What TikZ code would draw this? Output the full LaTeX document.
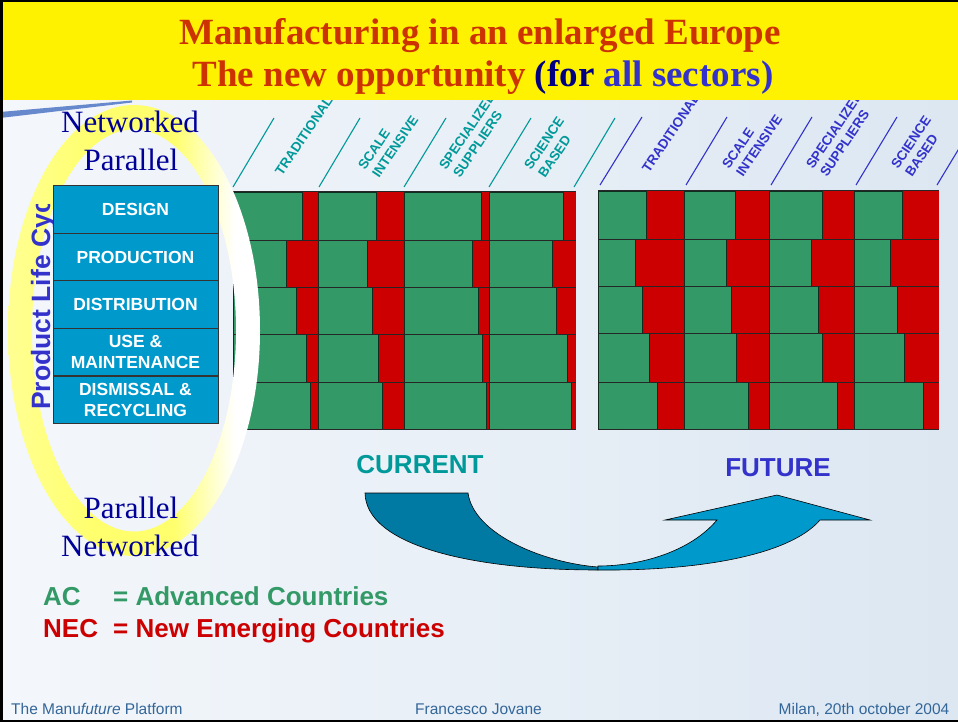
\documentclass[tikz,border=0pt]{standalone}
\usepackage{fontspec}
\setmainfont{Liberation Serif}
\newfontfamily\arial{Liberation Sans}
\definecolor{titlered}{RGB}{204,51,0}
\definecolor{navyc}{RGB}{0,0,128}
\definecolor{sectblue}{RGB}{51,51,204}
\definecolor{tealc}{RGB}{0,153,153}
\definecolor{cgreen}{RGB}{51,153,102}
\definecolor{cred}{RGB}{204,0,0}
\definecolor{boxblue}{RGB}{0,153,204}
\definecolor{darkarrow}{RGB}{0,122,163}
\definecolor{footc}{RGB}{51,102,153}
\definecolor{nwblue}{RGB}{0,0,153}
\definecolor{bgl}{RGB}{244,247,251}
\definecolor{bgr}{RGB}{220,231,242}
\definecolor{ringy}{RGB}{255,255,110}
\definecolor{swooshc}{RGB}{102,136,204}
\pgfdeclarehorizontalshading{ringshade}{100bp}{color(0bp)=(ringy!75!white); color(25bp)=(ringy!75!white); color(42bp)=(ringy); color(58bp)=(ringy); color(70bp)=(white); color(100bp)=(white)}
\tikzset{
  lblc/.style={font=\arial\bfseries\fontsize{13.5}{15}\selectfont, text=tealc, rotate=56, anchor=base west, inner sep=0},
  lblf/.style={lblc, text=sectblue},
  tickc/.style={tealc, line width=1.1},
  tickf/.style={sectblue, line width=1.1},
  cell/.style={fill=cgreen, draw=black!70!cgreen, line width=0.8},
  rowline/.style={draw=black!85, line width=1},
  stage/.style={draw=black!80, line width=0.9, fill=boxblue, text=white, font=\arial\bfseries\fontsize{17.5}{21}\selectfont, minimum width=165, minimum height=47.6, inner sep=0, align=center},
  nwtext/.style={font=\fontsize{31}{34}\selectfont, text=nwblue, anchor=base, inner sep=0},
  bigsans/.style={font=\arial\bfseries\fontsize{26}{30}\selectfont, anchor=base, inner sep=0},
  legend/.style={font=\arial\bfseries\fontsize{26}{30}\selectfont, anchor=base west, inner sep=0},
  foot/.style={font=\arial\fontsize{15.5}{18}\selectfont, text=footc, inner sep=0},
  titlef/.style={font=\bfseries\fontsize{37}{42}\selectfont, text=titlered, anchor=base, inner sep=0},
}
\begin{document}
\begin{tikzpicture}[x=1pt,y=-1pt]
\useasboundingbox (0,0) rectangle (958,722);
% background
\fill[left color=bgl, right color=bgr] (0,0) rectangle (958,722);
% slanted sector lines and labels (CURRENT)
\draw[tickc] (233,187) -- (274,118);
\draw[tickc] (319,187) -- (360,118);
\draw[tickc] (404,187) -- (446,118);
\draw[tickc] (489,187) -- (531,118);
\draw[tickc] (574,187) -- (615,118);
\node[lblc] (ct1) at (282,177) {TRADITIONAL};
\node[lblc] (ct2a) at (365,171) {SCALE};
\node[lblc] (ct2b) at (379,179) {INTENSIVE};
\node[lblc] (ct3a) at (446,171) {SPECIALIZED};
\node[lblc] (ct3b) at (460,179) {SUPPLIERS};
\node[lblc] (ct4a) at (531,171) {SCIENCE};
\node[lblc] (ct4b) at (545,179) {BASED};
% FUTURE
\draw[tickf] (600,185) -- (642,117);
\draw[tickf] (686,185) -- (727,117);
\draw[tickf] (771,185) -- (812,117);
\draw[tickf] (856,185) -- (897,117);
\draw[tickf] (937,185) -- (978,117);
\node[lblf] (ft1) at (649,174) {TRADITIONAL};
\node[lblf] (ft2a) at (729,170) {SCALE};
\node[lblf] (ft2b) at (743,178) {INTENSIVE};
\node[lblf] (ft3a) at (813,170) {SPECIALIZED};
\node[lblf] (ft3b) at (827,178) {SUPPLIERS};
\node[lblf] (ft4a) at (898,170) {SCIENCE};
\node[lblf] (ft4b) at (912,178) {BASED};
% title band
\fill[yellow] (0,0) rectangle (958,100);
\node[titlef] (title1) at (480,45) {Manufacturing in an enlarged Europe};
\node[titlef] (title2) at (483,87) {The new opportunity {\color{navyc}(for} {\color{sectblue}all sectors)}};
\fill[swooshc] (0,112) -- (132,100.5) -- (132,102.5) -- (0,118) -- cycle;
% CURRENT table
\foreach \yt/\yb/\ra/\rb/\rc/\rd in {192/240/302.7/376.7/481/563, 240/287/286.7/367.3/472.3/552.7, 287/334/296.7/372.7/478/556.7, 334/382/306.7/378.7/482.3/567.3, 382/429/310.7/382/486.3/571.3}{
  \fill[cred] (233,\yt) rectangle (576,\yb);
  \draw[cell] (233,\yt) rectangle (\ra,\yb);
  \draw[cell] (318,\yt) rectangle (\rb,\yb);
  \draw[cell] (404,\yt) rectangle (\rc,\yb);
  \draw[cell] (489,\yt) rectangle (\rd,\yb);
  \draw[rowline] (233,\yt) -- (576,\yt);
}
\draw[rowline] (233,429) -- (576,429);
% FUTURE table
\foreach \yt/\yb/\ra/\rb/\rc/\rd in {191/239/646.7/735.3/822.3/902, 239/286/635.3/726.3/811.3/890.7, 286/333/642/731.3/818.3/897.3, 333/382/649.3/736.7/822.3/904.7, 382/429/657.3/748.3/837.3/923.3}{
  \fill[cred] (598,\yt) rectangle (939,\yb);
  \draw[cell] (598,\yt) rectangle (\ra,\yb);
  \draw[cell] (684,\yt) rectangle (\rb,\yb);
  \draw[cell] (769,\yt) rectangle (\rc,\yb);
  \draw[cell] (854,\yt) rectangle (\rd,\yb);
  \draw[rowline] (598,\yt) -- (939,\yt);
}
\draw[rowline] (598,429) -- (939,429);
% yellow ring
\path[shading=ringshade, even odd rule] (134,330.5) ellipse [x radius=126, y radius=225.5] (134,330.5) ellipse [x radius=102, y radius=201];
% Product Life Cycle
\begin{scope}
\clip (0,205) rectangle (60,460);
\node[font=\arial\bfseries\fontsize{26.5}{29}\selectfont, text=sectblue, rotate=90, anchor=base west, inner sep=0] (plc) at (50,410) {Product Life Cycle};
\end{scope}
% stages
\node[stage] (design) at (135.5,209.5) {DESIGN};
\node[stage] (production) at (135.5,257) {PRODUCTION};
\node[stage] (distribution) at (135.5,304.5) {DISTRIBUTION};
\node[stage] (use) at (135.5,352) {USE \&\\MAINTENANCE};
\node[stage] (dismissal) at (135.5,400) {DISMISSAL \&\\RECYCLING};
% networked / parallel
\node[nwtext] (nw1) at (130,133) {Networked};
\node[nwtext] (pa1) at (131,171) {Parallel};
\node[nwtext] (pa2) at (131,518) {Parallel};
\node[nwtext] (nw2) at (130,556) {Networked};
% current / future
\node[bigsans, text=tealc] (current) at (420,473) {CURRENT};
\node[bigsans, text=sectblue] (future) at (778,476) {FUTURE};
% swoosh arrow
\filldraw[fill=darkarrow, draw=black, line width=0.6] (365,493) -- (468,493) .. controls (474,535) and (545,563) .. (598,567) -- (598,570) .. controls (470,570) and (366,545) .. (365,493) -- cycle;
\filldraw[fill=boxblue, draw=black, line width=0.6] (598,570) .. controls (700,571) and (790,555) .. (820,520) -- (870,520) -- (777,495) -- (665,520) -- (717,520) .. controls (690,552) and (640,566) .. (598,566) -- cycle;
% legend
\node[legend, text=cgreen] (ac) at (43,605) {AC};
\node[legend, text=cgreen] (acdef) at (113,605) {= Advanced Countries};
\node[legend, text=cred] (nec) at (43,637) {NEC};
\node[legend, text=cred] (necdef) at (113,637) {= New Emerging Countries};
% footer
\node[foot, anchor=base west] (f1) at (11,714) {The Manu\textit{future} Platform};
\node[foot, anchor=base west] (f2) at (415,714) {Francesco Jovane};
\node[foot, anchor=base east] (f3) at (949.5,714) {Milan, 20th october 2004};
% border
\draw[line width=2.5] (1.25,1.25) rectangle (966,720.75);
\end{tikzpicture}
\end{document}
